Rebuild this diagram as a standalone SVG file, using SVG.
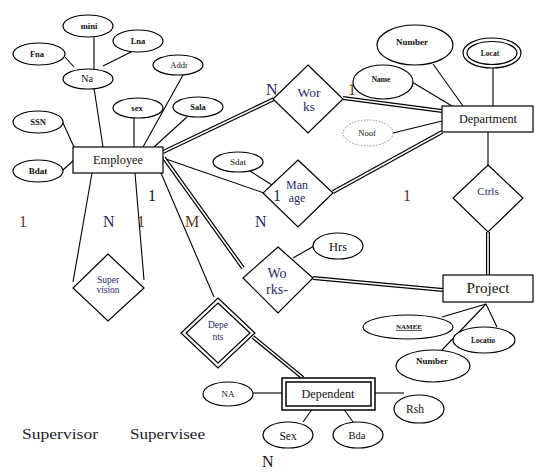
<svg xmlns="http://www.w3.org/2000/svg" width="543" height="476" viewBox="0 0 543 476">
<style>
.s{stroke:#000;stroke-width:1.1;fill:none}
.dbl{stroke:#000;stroke-width:4;fill:none}
.dbw{stroke:#fff;stroke-width:1.6;fill:none}
.sh{fill:#fff;stroke:#000;stroke-width:1.2}
.t{font-family:"Liberation Serif","Times New Roman",serif;text-anchor:middle;fill:#111}
.b{font-weight:bold}
.nv{fill:#1e2a66}
.br{fill:#5a3a1e}
.big{font-family:"Liberation Serif","Times New Roman",serif;font-size:16px}
</style>
<defs>
<clipPath id="clipOn"><rect x="200" y="340" width="40" height="7"/></clipPath>
</defs>
<rect width="543" height="476" fill="#fff"/>
<g id="connectors">
<line class="s" x1="65" y1="57" x2="74" y2="67"/>
<line class="s" x1="94" y1="37" x2="94" y2="70"/>
<line class="s" x1="133" y1="51" x2="103" y2="66"/>
<line class="s" x1="94" y1="88" x2="103" y2="147"/>
<line class="s" x1="63" y1="123" x2="74" y2="147"/>
<line class="s" x1="63" y1="170" x2="74" y2="160"/>
<line class="s" x1="134" y1="118" x2="134" y2="147"/>
<line class="s" x1="183" y1="75" x2="143" y2="147"/>
<line class="s" x1="187" y1="117" x2="154" y2="147"/>
<line class="s" x1="92" y1="173" x2="73" y2="282"/>
<line class="s" x1="135" y1="173" x2="144" y2="280"/>
<line class="s" x1="163" y1="158" x2="264" y2="193"/>
<line class="s" x1="161" y1="173" x2="214" y2="297"/>
<line class="s" x1="250" y1="171" x2="272" y2="185"/>
<line class="s" x1="314" y1="246" x2="293" y2="258"/>
<line class="s" x1="433" y1="64" x2="463" y2="106"/>
<line class="s" x1="412" y1="82" x2="452" y2="106"/>
<line class="s" x1="493" y1="68" x2="493" y2="106"/>
<line class="s" x1="393" y1="133" x2="442" y2="121"/>
<line class="s" x1="488" y1="132" x2="488" y2="165"/>
<line class="s" x1="486" y1="304" x2="442" y2="317"/>
<line class="s" x1="486" y1="304" x2="497" y2="327"/>
<line class="s" x1="486" y1="304" x2="442" y2="350"/>
<line class="s" x1="253" y1="393" x2="282" y2="393"/>
<line class="s" x1="375" y1="393" x2="404" y2="393"/>
<line class="s" x1="313" y1="408" x2="303" y2="422"/>
<line class="s" x1="343" y1="408" x2="353" y2="422"/>
<g>
<line class="dbl" x1="163" y1="152" x2="274" y2="99"/>
<line class="dbw" x1="163" y1="152" x2="274" y2="99"/>
<line class="dbl" x1="343" y1="98" x2="442" y2="111"/>
<line class="dbw" x1="343" y1="98" x2="442" y2="111"/>
<line class="dbl" x1="442" y1="132" x2="333" y2="192"/>
<line class="dbw" x1="442" y1="132" x2="333" y2="192"/>
<line class="dbl" x1="164" y1="158" x2="243" y2="268"/>
<line class="dbw" x1="164" y1="158" x2="243" y2="268"/>
<line class="dbl" x1="313" y1="278" x2="443" y2="290"/>
<line class="dbw" x1="313" y1="278" x2="443" y2="290"/>
<line class="dbl" x1="488" y1="232" x2="488" y2="275"/>
<line class="dbw" x1="488" y1="232" x2="488" y2="275"/>
<line class="dbl" x1="253" y1="337" x2="303" y2="378"/>
<line class="dbw" x1="253" y1="337" x2="303" y2="378"/>
</g>
</g>

<g id="employee"><rect class="sh" x="73" y="147" width="90" height="26"/><text class="t" x="118" y="164" font-size="13.5" textLength="50" lengthAdjust="spacingAndGlyphs">Employee</text></g>
<g id="na"><ellipse class="sh" cx="88" cy="79" rx="25" ry="10"/><text class="t" x="87" y="82" font-size="10">Na</text></g>
<g id="mini"><ellipse class="sh" cx="88" cy="26" rx="25" ry="11"/><text class="t b" x="89" y="29" font-size="8.5">mini</text></g>
<g id="lna"><ellipse class="sh" cx="138" cy="41" rx="25" ry="11"/><text class="t b" x="138" y="44" font-size="8.5">Lna</text></g>
<g id="fna"><ellipse class="sh" cx="39" cy="54" rx="26" ry="11"/><text class="t b" x="37" y="57" font-size="8.5">Fna</text></g>
<g id="addr"><ellipse class="sh" cx="178" cy="65" rx="25" ry="10"/><text class="t" x="179" y="68" font-size="8.5" fill="#2a1f55">Addr</text></g>
<g id="sex"><ellipse class="sh" cx="138" cy="108" rx="25" ry="10"/><text class="t b" x="137" y="111" font-size="8.5">sex</text></g>
<g id="sala"><ellipse class="sh" cx="198" cy="107" rx="25" ry="10"/><text class="t b" x="198" y="110" font-size="8.5">Sala</text></g>
<g id="ssn"><ellipse class="sh" cx="38" cy="122" rx="25" ry="11"/><text class="t b" x="38" y="125" font-size="8.5">SSN</text></g>
<g id="bdat"><ellipse class="sh" cx="38" cy="171" rx="25" ry="11"/><text class="t b" x="38" y="174" font-size="9">Bdat</text></g>

<g id="works"><polygon class="sh" points="308,65 343,99 308,133 273,99"/><text class="t nv" x="309" y="97" font-size="13.5">Wor</text><text class="t nv" x="309" y="111" font-size="13.5">ks</text></g>
<g id="department"><rect class="sh" x="442" y="106" width="91" height="26"/><text class="t" x="488" y="123" font-size="13" textLength="58" lengthAdjust="spacingAndGlyphs">Department</text></g>
<g id="number-d"><ellipse class="sh" cx="415" cy="45" rx="38" ry="20"/><text class="t b" x="412" y="45" font-size="9">Number</text></g>
<g id="locat"><ellipse class="sh" cx="492" cy="53" rx="29" ry="15" stroke-width="1.5"/><ellipse class="sh" cx="492" cy="53" rx="25" ry="11.5" stroke-width="1.5"/><text class="t b" x="490" y="56" font-size="7.5">Locat</text></g>
<g id="name"><ellipse class="sh" cx="383" cy="82" rx="30" ry="17"/><text class="t b" x="381" y="82" font-size="7.5">Name</text></g>
<g id="noof"><ellipse cx="368" cy="133" rx="25" ry="13" fill="#fff" stroke="#888" stroke-width="1" stroke-dasharray="1.5 1.5"/><text class="t" x="367" y="136" font-size="8.5" fill="#666">Noof</text></g>

<g id="manage"><polygon class="sh" points="298,160 333,193 298,227 263,193"/><text class="t nv" x="297" y="189" font-size="12">Man</text><text class="t nv" x="297" y="202" font-size="12">age</text></g>
<g id="sdat"><ellipse class="sh" cx="238" cy="162" rx="25" ry="10"/><text class="t" x="238" y="165" font-size="9">Sdat</text></g>

<g id="ctrls"><polygon class="sh" points="488,165 523,198 488,232 453,198"/><text class="t nv" x="488" y="195" font-size="11">Ctrls</text></g>
<g id="project"><rect class="sh" x="443" y="275" width="90" height="27"/><text class="t" x="488" y="293" font-size="15" textLength="43" lengthAdjust="spacingAndGlyphs">Project</text></g>
<g id="namee"><ellipse class="sh" cx="408" cy="327" rx="45" ry="12"/><text class="t b" x="409" y="329" font-size="7" text-decoration="underline">NAMEE</text></g>
<g id="locatio"><ellipse class="sh" cx="484" cy="340" rx="31" ry="13"/><text class="t b" x="483" y="343" font-size="7.5">Locatio</text></g>
<g id="number-p"><ellipse class="sh" cx="433" cy="366" rx="37" ry="16"/><text class="t b" x="432" y="364" font-size="9">Number</text></g>

<g id="works2"><polygon class="sh" points="278,247 313,278 278,313 243,278"/><text class="t nv" x="277" y="278" font-size="14">Wo</text><text class="t nv" x="277" y="294" font-size="14">rks-</text></g>
<g id="hrs"><ellipse class="sh" cx="338" cy="246" rx="25" ry="13"/><text class="t" x="338" y="251" font-size="12.5">Hrs</text></g>

<g id="supervision"><polygon class="sh" points="108,254 144,288 108,321 73,288"/><text class="t nv" x="108" y="283" font-size="9.5">Super</text><text class="t nv" x="108" y="293" font-size="9.5">vision</text></g>

<g id="dependents"><polygon class="sh" points="218,298 255,333 218,368 181,333" stroke-width="1.5"/><polygon class="sh" points="218,303 250,333 218,363 186,333" stroke-width="1.5"/><text class="t nv" x="218" y="328" font-size="9.5">Depe</text><text class="t nv" x="218" y="340" font-size="9.5">nts</text><text class="t nv" x="218" y="352" font-size="9.5" clip-path="url(#clipOn)">on</text></g>
<g id="dependent"><rect x="282" y="378" width="93" height="32" fill="#fff" stroke="#000" stroke-width="1.5"/><rect x="286" y="382" width="85" height="24" fill="#fff" stroke="#000" stroke-width="1.5"/><text class="t" x="328" y="398" font-size="13" textLength="53" lengthAdjust="spacingAndGlyphs">Dependent</text></g>
<g id="na2"><ellipse class="sh" cx="228" cy="394" rx="25" ry="12"/><text class="t" x="228" y="397" font-size="9">NA</text></g>
<g id="rsh"><ellipse class="sh" cx="419" cy="409" rx="25" ry="14"/><text class="t" x="415" y="413" font-size="11.5">Rsh</text></g>
<g id="sex2"><ellipse class="sh" cx="288" cy="435" rx="25" ry="13"/><text class="t" x="288" y="440" font-size="11.5">Sex</text></g>
<g id="bda"><ellipse class="sh" cx="358" cy="435" rx="25" ry="13"/><text class="t" x="357" y="439" font-size="10.5">Bda</text></g>

<g id="labels" class="big">
<text x="266" y="95" class="nv">N</text>
<text x="348" y="95" class="br">1</text>
<text x="19" y="227" class="br">1</text>
<text x="103" y="227" class="nv">N</text>
<text x="137" y="227" class="br">1</text>
<text x="148" y="201" fill="#111">1</text>
<text x="185" y="227" class="br">M</text>
<text x="255" y="227" class="nv">N</text>
<text x="273" y="201" class="nv">1</text>
<text x="403" y="201" class="br">1</text>
<text x="262" y="467" fill="#111">N</text>
<text x="22" y="439" fill="#1a1a2a" font-size="15" textLength="76" lengthAdjust="spacingAndGlyphs">Supervisor</text>
<text x="130" y="439" fill="#1a1a2a" font-size="15" textLength="75" lengthAdjust="spacingAndGlyphs">Supervisee</text>
</g>
</svg>
